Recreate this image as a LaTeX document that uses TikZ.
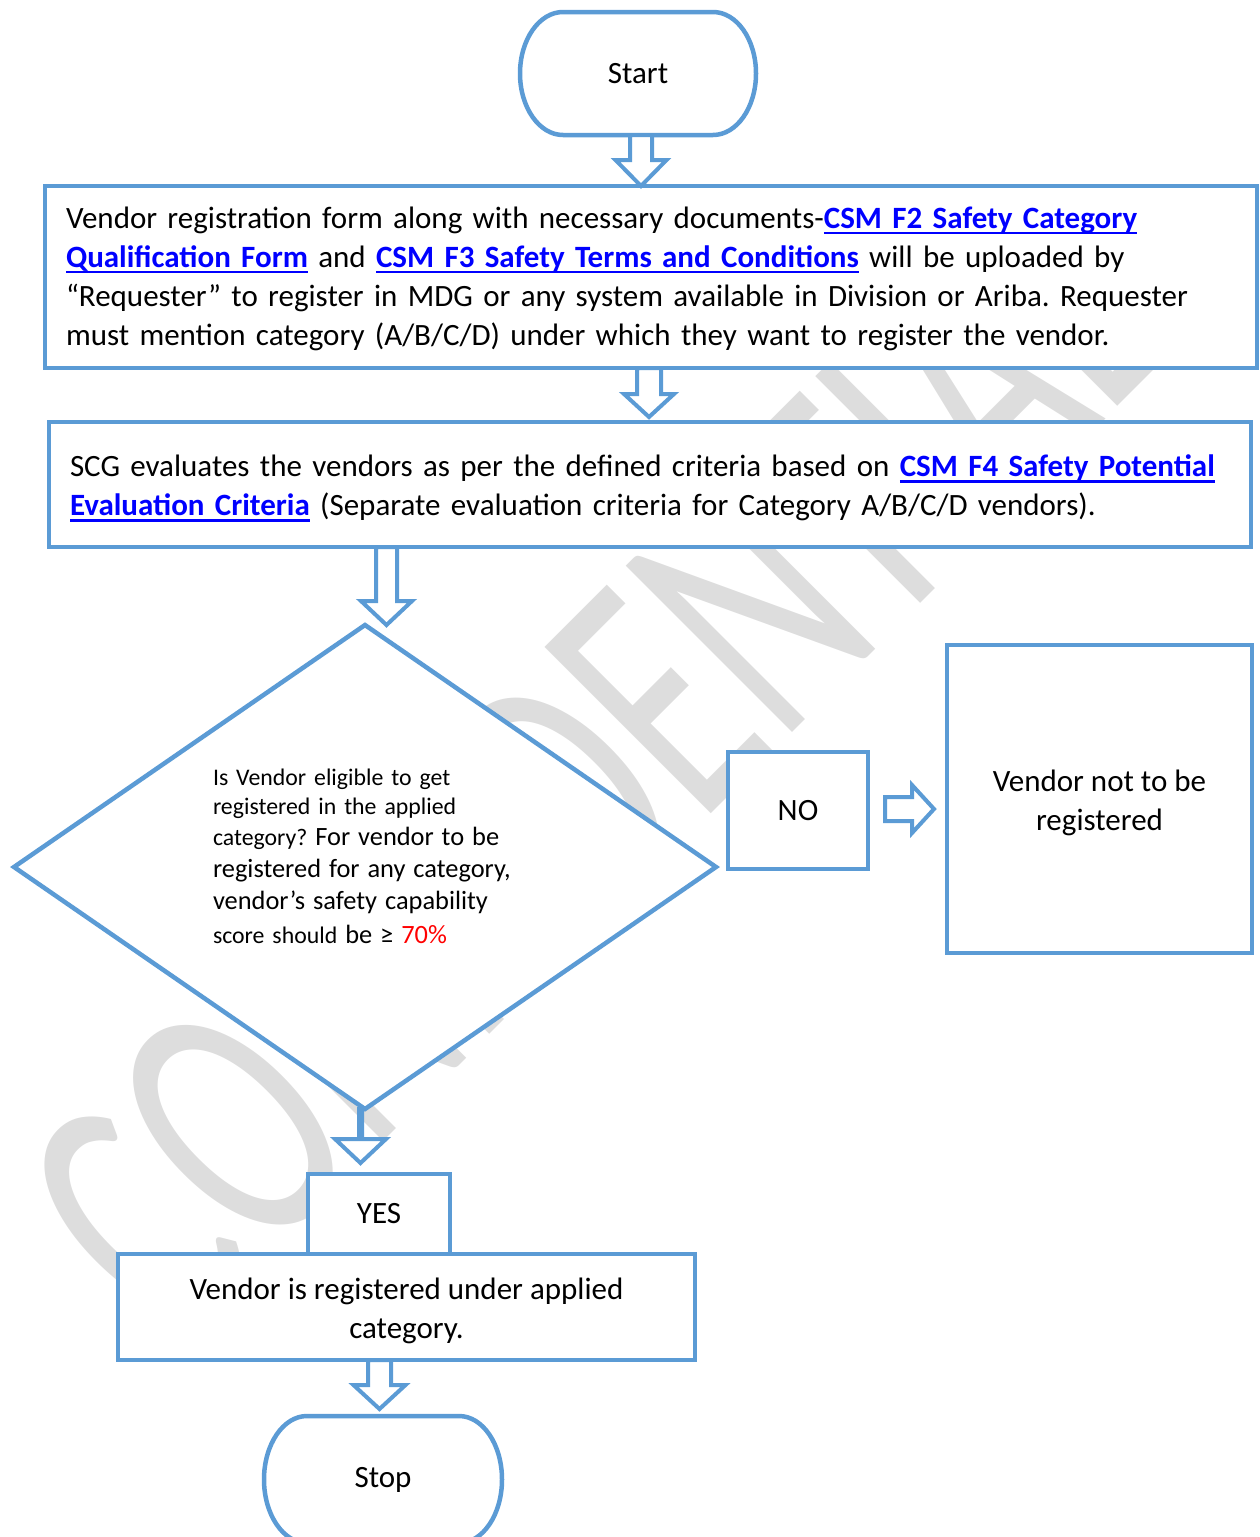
\documentclass[tikz,border=0pt]{standalone}
\usepackage{fontspec}
\setmainfont{Carlito}
\usetikzlibrary{shapes.geometric,calc}
\definecolor{bblue}{HTML}{5B9BD5}
\definecolor{lblue}{HTML}{0000FF}
\definecolor{wred}{HTML}{FF0000}
\definecolor{wmgray}{RGB}{221,221,221}
\newsavebox{\lnkbox}
\newcommand{\lnk}[1]{\textcolor{lblue}{\bfseries\sbox{\lnkbox}{#1}\rlap{\rule[-6pt]{\wd\lnkbox}{2.5pt}}\usebox{\lnkbox}}}
\newcommand{\bigtxt}[1]{{\fontsize{26.4}{29}\selectfont #1}}
\pgfdeclarelayer{wmlayer}
\pgfdeclarelayer{bglayer}
\pgfsetlayers{wmlayer,bglayer,main}
% vertical block arrow: from point, to point (y used), half shaft, half head, head length
\newcommand{\varr}[5]{\draw[barrow] let \p1=#1, \p2=#2 in
  (\x1-#3,\y1) -- (\x1-#3,\y2+#5) -- (\x1-#4,\y2+#5) -- (\x1,\y2) --
  (\x1+#4,\y2+#5) -- (\x1+#3,\y2+#5) -- (\x1+#3,\y1) -- cycle;}
% horizontal block arrow
\newcommand{\harr}[5]{\draw[barrow] let \p1=#1, \p2=#2 in
  (\x1,\y1+#3) -- (\x2-#5,\y1+#3) -- (\x2-#5,\y1+#4) -- (\x2,\y1) --
  (\x2-#5,\y1-#4) -- (\x2-#5,\y1-#3) -- (\x1,\y1-#3) -- cycle;}
\begin{document}
\frenchspacing
\begin{tikzpicture}[x=1pt,y=1pt,
  box/.style={draw=bblue, line width=4.5pt, fill=white, rectangle, inner sep=0pt, outer sep=0pt},
  termnode/.style={rectangle, inner sep=0pt, outer sep=0pt},
  termline/.style={draw=bblue, line width=4.5pt, fill=white},
  barrow/.style={draw=bblue, line width=4pt, fill=white, line join=miter},
  body/.style={font=\fontsize{31}{39}\selectfont},
  txt/.style={inner sep=0pt, font=\fontsize{31}{39}\selectfont}]
\useasboundingbox (0,0) rectangle (1260,-1537);

% watermark
\begin{pgfonlayer}{wmlayer}
\node[rotate=45, yscale=1.56, font=\fontsize{235}{235}\selectfont, text=wmgray, inner sep=0pt] (wm) at (592,-766) {CONFIDENTIAL};
\end{pgfonlayer}

% Start terminal
\node[termnode, body, minimum width=236pt, minimum height=123pt] (start) at (638,-73.5) {\raisebox{-2pt}{Start}};

% Box 1
\node[box, minimum width=1212pt, minimum height=182pt] (box1) at (651,-277) {};
\node[txt, text width=1170pt, align=left] (box1txt) at (651,-278.5) {%
Vendor registration form along with necessary documents-\lnk{CSM F2 Safety Category}\\
\lnk{Qualification Form} and \lnk{CSM F3 Safety Terms and Conditions} will be uploaded by\\
“Requester” to register in MDG or any system available in Division or Ariba. Requester\\
must mention category (A/B/C/D) under which they want to register the vendor.};

% Box 2
\node[box, minimum width=1202pt, minimum height=125pt] (box2) at (650,-484.5) {};
\node[txt, text width=1160pt, align=left] (box2txt) at (650,-488.5) {%
SCG evaluates the vendors as per the defined criteria based on \lnk{CSM F4 Safety Potential}\\
\lnk{Evaluation Criteria} (Separate evaluation criteria for Category A/B/C/D vendors).};

% Decision
\node[draw=bblue, line width=4.5pt, fill=white, diamond, aspect=1.45, inner sep=0pt, outer sep=0pt,
      minimum width=702pt, minimum height=484pt] (diamond) at (365,-867) {};
\node[text width=300pt, align=left, inner sep=0pt, font=\fontsize{23.8}{29}\selectfont] (dtext) at (363,-856) {%
Is Vendor eligible to get\\
registered in the applied\\[2.3pt]
category? \bigtxt{For vendor to be}\\[2.7pt]
\bigtxt{registered for any category,}\\[3.7pt]
\bigtxt{vendor’s safety capability}\\[4.3pt]
score should \bigtxt{be ≥ \textcolor{wred}{70\%}}};

% NO branch
\node[box, body, minimum width=140pt, minimum height=117pt] (no) at (798,-810.5) {\raisebox{-2pt}{NO}};
\node[box, minimum width=305pt, minimum height=308pt] (vnot) at (1099.5,-799) {};
\node[txt, align=center] (vnottxt) at (1099.5,-803) {Vendor not to be\\registered};

% YES branch
\node[box, body, minimum width=142pt, minimum height=80pt] (yes) at (379,-1214) {YES};
\node[box, minimum width=577pt, minimum height=106pt] (reg) at (406.5,-1307) {};
\node[txt, align=center] (regtxt) at (406.5,-1311) {Vendor is registered under applied\\category.};

% Stop terminal
\node[termnode, body, minimum width=238pt, minimum height=127pt] (stop) at (383,-1479.5) {\raisebox{-3pt}{Stop}};

% terminal outlines
\begin{pgfonlayer}{bglayer}
\draw[termline] ([xshift=43pt]start.north west) -- ([xshift=-43pt]start.north east)
  arc[start angle=90, end angle=-90, x radius=43, y radius=61.5]
  -- ([xshift=43pt]start.south west)
  arc[start angle=270, end angle=90, x radius=43, y radius=61.5] -- cycle;
\draw[termline] ([xshift=43pt]stop.north west) -- ([xshift=-43pt]stop.north east)
  arc[start angle=90, end angle=-90, x radius=43, y radius=63.5]
  -- ([xshift=43pt]stop.south west)
  arc[start angle=270, end angle=90, x radius=43, y radius=63.5] -- cycle;
\end{pgfonlayer}

% block arrows
\varr{($(start.south)+(3,0)$)}{(box1.north)}{11}{25.5}{26}
\varr{($(box1.south -| start.south)+(11,0)$)}{($(box2.north)+(0,5)$)}{12}{25}{23}
\varr{($(box2.south -| diamond.north)+(21.5,0)$)}{(diamond.north)}{10.5}{25.5}{24}
\varr{($(diamond.south)+(-4.5,0)$)}{($(yes.north)+(0,11)$)}{1.5}{25.5}{24}
\harr{($(no.east)+(17,1.5)$)}{($(vnot.west)+(-13,0)$)}{12}{24}{22}
\varr{($(reg.south -| stop.north)+(-3.5,0)$)}{($(stop.north)+(0,7)$)}{11.5}{26}{24}
\end{tikzpicture}
\end{document}
